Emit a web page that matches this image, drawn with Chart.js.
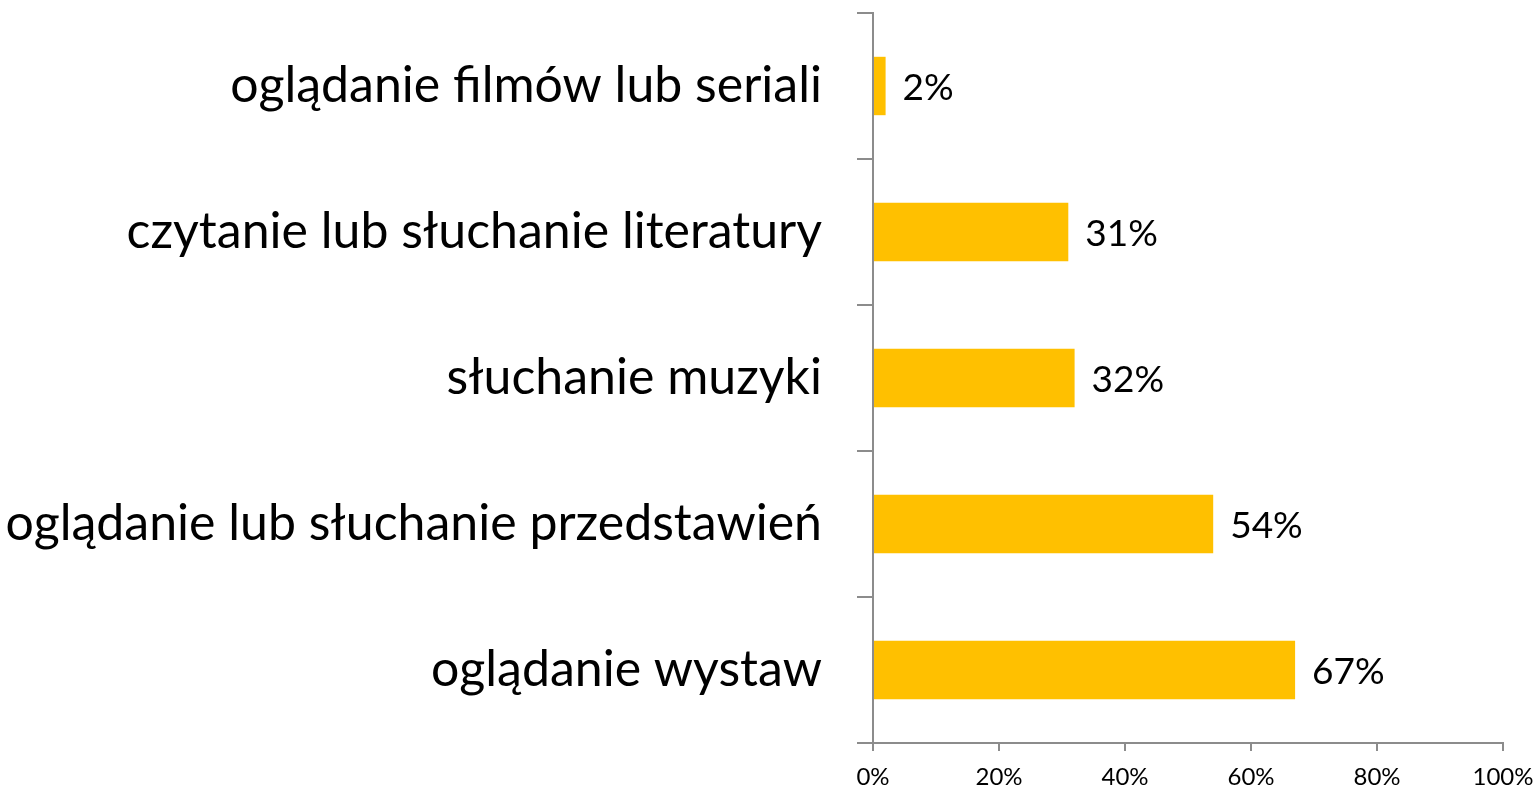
<!DOCTYPE html>
<html>
<head>
<meta charset="utf-8">
<script src="https://cdn.jsdelivr.net/npm/chart.js@4/dist/chart.umd.min.js"></script>
<style>
  html, body { margin: 0; padding: 0; background: #fff; }
  #wrap { width: 1535px; height: 789px; }
</style>
</head>
<body>
<div id="wrap"><canvas id="chart"></canvas></div>
<script>
const categories = [
  "oglądanie filmów lub seriali",
  "czytanie lub słuchanie literatury",
  "słuchanie muzyki",
  "oglądanie lub słuchanie przedstawień",
  "oglądanie wystaw",
];
const values = [2, 31, 32, 54, 67];
const xTicks = [0, 20, 40, 60, 80, 100];

const font = "Lato, 'Open Sans', sans-serif";
const axisGray = "#8c8c8c";

// value labels to the right of each bar
const valueLabels = {
  id: "valueLabels",
  afterDatasetsDraw(chart) {
    const ctx = chart.ctx;
    const meta = chart.getDatasetMeta(0);
    ctx.save();
    ctx.font = "37px " + font;
    ctx.fillStyle = "#000";
    ctx.textAlign = "left";
    ctx.textBaseline = "middle";
    meta.data.forEach((bar, i) => {
      ctx.fillText(values[i] + "%", bar.x + 17, bar.y + 2);
    });
    ctx.restore();
  },
};

const noPad = (scale) => {
  scale.paddingTop = 0;
  scale.paddingBottom = 0;
  scale.paddingLeft = 0;
  scale.paddingRight = 0;
};

const ctx = document.getElementById("chart");
new Chart(ctx, {
  type: "bar",
  data: {
    labels: categories,
    datasets: [
      {
        data: values,
        backgroundColor: "#FFC000",
        categoryPercentage: 1,
        barPercentage: 0.4,
      },
    ],
  },
  options: {
    indexAxis: "y",
    responsive: true,
    maintainAspectRatio: false,
    animation: false,
    layout: { padding: { top: 13, right: 32, left: 0, bottom: 0 } },
    plugins: {
      legend: { display: false },
      tooltip: { enabled: false },
    },
    scales: {
      x: {
        min: 0,
        max: 100,
        afterBuildTicks: (scale) => {
          scale.ticks = xTicks.map((v) => ({ value: v }));
        },
        afterFit: (scale) => {
          scale.height = 46;
          noPad(scale);
        },
        ticks: {
          callback: (val) => `${val}%`,
          color: "#000",
          font: { family: font, size: 24 },
          padding: 12,
          maxRotation: 0,
        },
        grid: {
          drawOnChartArea: false,
          tickLength: 8,
          color: axisGray,
          lineWidth: 2,
        },
        border: { color: axisGray, width: 2 },
      },
      y: {
        afterFit: (scale) => {
          scale.width = 873;
          noPad(scale);
        },
        ticks: {
          color: "#000",
          font: { family: font, size: 50 },
          padding: 35,
        },
        grid: {
          offset: true,
          drawOnChartArea: false,
          tickLength: 16,
          color: axisGray,
          lineWidth: 2,
        },
        border: { color: axisGray, width: 2 },
      },
    },
  },
  plugins: [valueLabels],
});
</script>
</body>
</html>
